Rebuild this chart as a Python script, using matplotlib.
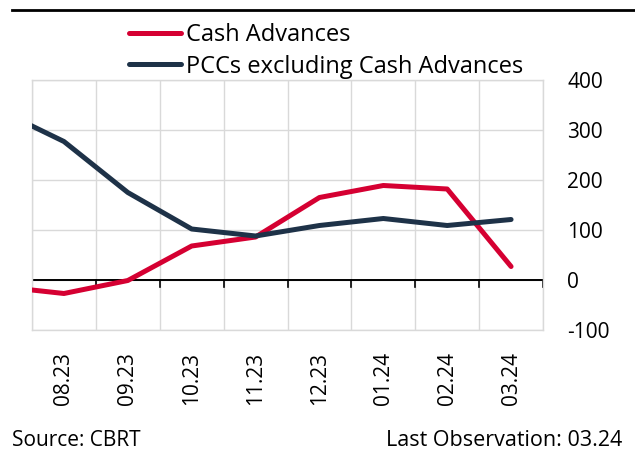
import numpy as np
import matplotlib.pyplot as plt
import matplotlib.lines as mlines

plt.rcParams['font.family'] = ['Open Sans', 'DejaVu Sans']

# data (07.23 point only shows as the clipped start of the lines)
months = ['07.23', '08.23', '09.23', '10.23', '11.23', '12.23', '01.24', '02.24', '03.24']
cash_adv = [-13, -27, -1, 68, 86, 165, 189, 182, 27]
pcc_ex = [339, 277, 175, 102, 88, 109, 123, 109, 121]
yticks = [-100, 0, 100, 200, 300, 400]

red = '#d50032'
navy = '#1e3248'
grid_c = '#d9d9d9'

fig = plt.figure(figsize=(6.35, 4.55), dpi=100)
ax = fig.add_axes([32/635, 1-330/455, (543-32)/635, 250/455])

x = np.arange(len(months)) - 1
ax.plot(x, cash_adv, color=red, lw=3.6, solid_capstyle='round', zorder=3)
ax.plot(x, pcc_ex, color=navy, lw=3.6, solid_capstyle='round', zorder=4)

n = len(months) - 1
ax.set_xlim(-0.5, n - 0.5)
ax.set_ylim(-100, 400)

ax.set_xticks(np.arange(n))
ax.set_xticklabels(months[1:], rotation=90, fontsize=15)
ax.set_xticks(np.arange(n + 1) - 0.5, minor=True)
ax.tick_params(axis='x', which='both', length=0, pad=16)

ax.yaxis.tick_right()
ax.set_yticks(yticks)
ax.set_yticklabels([str(v) for v in yticks], fontsize=15)
ax.tick_params(axis='y', length=0, pad=17.5)

ax.grid(True, which='minor', axis='x', color=grid_c, lw=1)
ax.grid(True, which='major', axis='y', color=grid_c, lw=1)
ax.set_axisbelow(True)
for s in ax.spines.values():
    s.set_color(grid_c)
    s.set_linewidth(1)

# zero line with tick marks at month boundaries
ax.axhline(0, color='black', lw=1.4, zorder=2)
for b in np.arange(n + 1) - 0.5:
    ax.axvline(b, ymin=0.2 - 0.028, ymax=0.2, color='black', lw=1.2, zorder=2)

h1 = mlines.Line2D([], [], color=red, lw=3.6, solid_capstyle='round')
h2 = mlines.Line2D([], [], color=navy, lw=3.6, solid_capstyle='round')
fig.legend([h1, h2], ['Cash Advances', 'PCCs excluding Cash Advances'],
           loc='upper left', bbox_to_anchor=(120/635, 1-14/455), frameon=False,
           fontsize=17, handlelength=2.2, handletextpad=0.2, labelspacing=0.3,
           borderaxespad=0)

fig.add_artist(mlines.Line2D([12/635, 1], [1-10/455, 1-10/455], color='black', lw=2))
fig.text(12/635, 1-441/455, 'Source: CBRT', fontsize=15, va='center', ha='left')
fig.text(622/635, 1-441/455, 'Last Observation: 03.24', fontsize=15.5, va='center', ha='right')

fig.savefig('out.png', dpi=100)
